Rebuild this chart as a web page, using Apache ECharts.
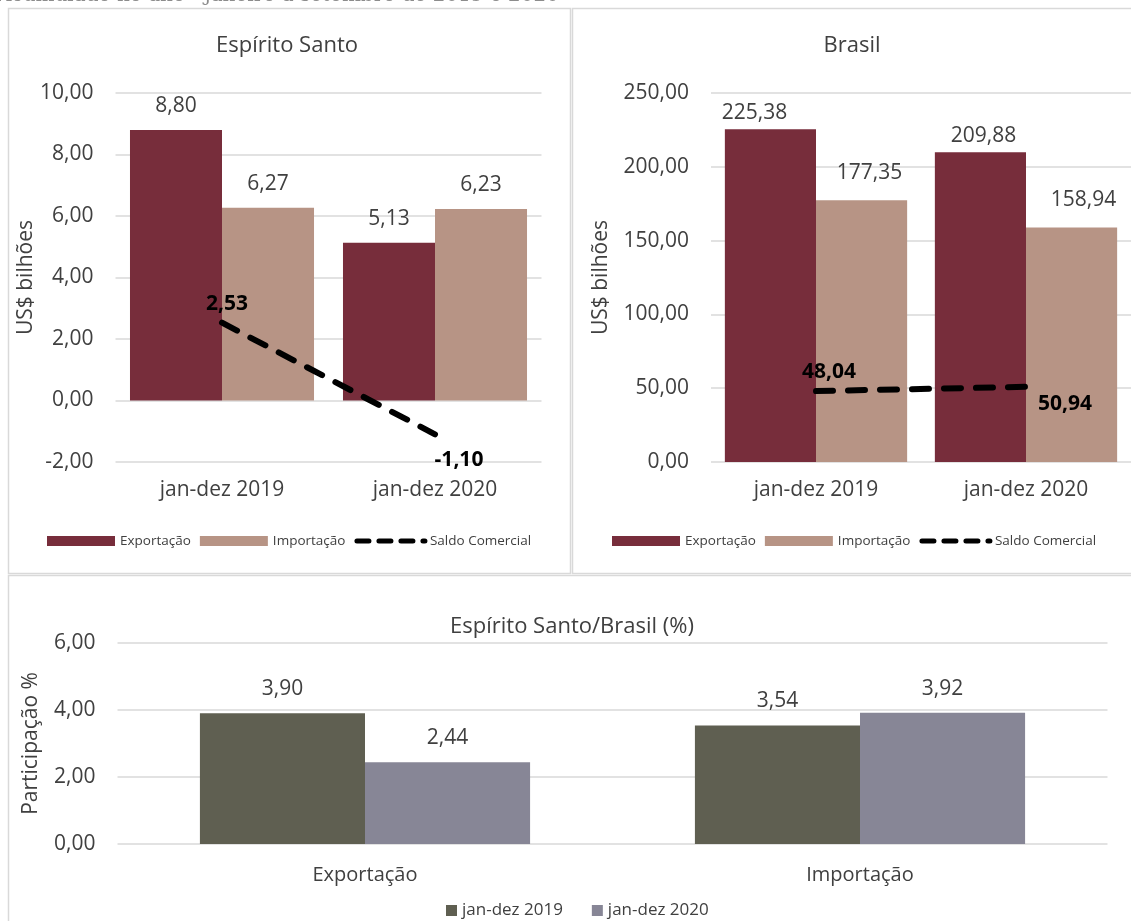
<!DOCTYPE html>
<html><head><meta charset="utf-8">
<script src="https://cdn.jsdelivr.net/npm/echarts@6/dist/echarts.min.js"></script>
<style>html,body{margin:0;padding:0;background:#fff}#c{width:1131px;height:921px}</style>
</head><body><div id="c"></div>
<script>
// ---- data ----
const periodos = ['jan-dez 2019', 'jan-dez 2020'];
const esExportacao = [8.80, 5.13];
const esImportacao = [6.27, 6.23];
const esSaldo = [2.53, -1.10];
const brExportacao = [225.38, 209.88];
const brImportacao = [177.35, 158.94];
const brSaldo = [48.04, 50.94];
const fluxos = ['Exportação', 'Importação'];
const part2019 = [3.90, 3.54];
const part2020 = [2.44, 3.92];
const esTicks = [-2, 0, 2, 4, 6, 8, 10];
const brTicks = [0, 50, 100, 150, 200, 250];
const partTicks = [0, 2, 4, 6];

// ---- style ----
const FONT = 'Open Sans';
const TXT = '#404040';
const GRID = '#d9d9d9';
const C_EXP = '#772D3B', C_IMP = '#B79485', C_19 = '#5F5F51', C_20 = '#878696';
const fmt = v => Number(v).toFixed(2).replace('.', ',');

function yAxis(idx, ticks, name, nameGap) {
  return {
    gridIndex: idx, type: 'value',
    min: ticks[0], max: ticks[ticks.length - 1], interval: ticks[1] - ticks[0],
    name: name, nameLocation: 'middle', nameGap: nameGap, nameRotate: 90,
    nameTextStyle: { fontFamily: FONT, fontSize: 21, color: TXT },
    axisLine: { show: false }, axisTick: { show: false },
    axisLabel: { formatter: fmt, fontFamily: FONT, fontSize: 21, color: TXT, margin: 22 },
    splitLine: { lineStyle: { color: GRID, width: 1.5 } }
  };
}
function xAxis(idx, cats, margin, size) {
  return {
    gridIndex: idx, type: 'category', data: cats,
    axisLine: { show: false }, axisTick: { show: false },
    axisLabel: { fontFamily: FONT, fontSize: size, color: TXT, margin: margin }
  };
}
function barLabel(dist) {
  return { show: true, position: 'top', distance: dist, formatter: p => fmt(p.value),
           fontFamily: FONT, fontSize: 21, color: TXT };
}
function withOffsets(vals, offsets) {
  return vals.map((v, i) => ({ value: v, label: { offset: offsets[i] } }));
}
const dashed = { color: '#000', width: 6, type: [17, 15], cap: 'round' };
const lineLabel = { show: true, position: 'inside', formatter: p => fmt(p.value),
  fontFamily: FONT, fontSize: 21, fontWeight: 'bold', color: '#000' };
const legendTop = (left) => ({
  left: left, top: 534, padding: 0, itemWidth: 68, itemHeight: 10, itemGap: 9,
  textStyle: { fontFamily: FONT, fontSize: 13.5, color: TXT },
  data: [
    { name: 'Exportação', icon: 'rect' },
    { name: 'Importação', icon: 'rect' },
    { name: 'Saldo Comercial', itemStyle: { opacity: 0 },
      lineStyle: { width: 5, type: [12, 10], cap: 'round', color: '#000' } }
  ]
});

const option = {
  backgroundColor: '#fff',
  animation: false,
  title: [
    { text: 'Espírito Santo', left: 287, top: 35, textAlign: 'center', padding: 0,
      textStyle: { fontFamily: FONT, fontSize: 22, fontWeight: 'normal', color: TXT } },
    { text: 'Brasil', left: 852, top: 35, textAlign: 'center', padding: 0,
      textStyle: { fontFamily: FONT, fontSize: 22, fontWeight: 'normal', color: TXT } },
    { text: 'Espírito Santo/Brasil (%)', left: 572, top: 616, textAlign: 'center', padding: 0,
      textStyle: { fontFamily: FONT, fontSize: 22, fontWeight: 'normal', color: TXT } }
  ],
  legend: [
    legendTop(47),
    legendTop(612),
    { left: 446, top: 902, padding: 0, itemWidth: 11, itemHeight: 11, itemGap: 29,
      textStyle: { fontFamily: FONT, fontSize: 17, color: TXT },
      data: [{ name: 'jan-dez 2019', icon: 'rect' }, { name: 'jan-dez 2020', icon: 'rect' }] }
  ],
  grid: [
    { left: 115.5, top: 93, width: 426, height: 369 },
    { left: 711, top: 93, width: 424, height: 369 },
    { left: 117.5, top: 643, width: 990, height: 201 }
  ],
  xAxis: [ xAxis(0, periodos, 18, 21), xAxis(1, periodos, 18, 21), xAxis(2, fluxos, 21, 20) ],
  yAxis: [ yAxis(0, esTicks, 'US$ bilhões', 68), yAxis(1, brTicks, 'US$ bilhões', 99),
           yAxis(2, partTicks, 'Participação %', 76) ],
  series: [
    { name: 'Exportação', type: 'bar', xAxisIndex: 0, yAxisIndex: 0, data: esExportacao,
      barGap: '0%', barCategoryGap: '13.6%', itemStyle: { color: C_EXP }, label: barLabel(13.5) },
    { name: 'Importação', type: 'bar', xAxisIndex: 0, yAxisIndex: 0, data: esImportacao,
      barGap: '0%', barCategoryGap: '13.6%', itemStyle: { color: C_IMP }, label: barLabel(13.5) },
    { name: 'Saldo Comercial', type: 'line', xAxisIndex: 0, yAxisIndex: 0,
      data: withOffsets(esSaldo, [[5, -19], [24, 26]]),
      symbol: 'circle', symbolSize: 2, itemStyle: { color: '#000' }, lineStyle: dashed, label: lineLabel, z: 5 },
    { name: 'Exportação', type: 'bar', xAxisIndex: 1, yAxisIndex: 1,
      data: withOffsets(brExportacao, [[-16, 0], [3, 0]]),
      barGap: '0%', barCategoryGap: '13.2%', itemStyle: { color: C_EXP }, label: barLabel(6) },
    { name: 'Importação', type: 'bar', xAxisIndex: 1, yAxisIndex: 1,
      data: withOffsets(brImportacao, [[8, 0], [12, 0]]),
      barGap: '0%', barCategoryGap: '13.2%', itemStyle: { color: C_IMP }, label: barLabel(17) },
    { name: 'Saldo Comercial', type: 'line', xAxisIndex: 1, yAxisIndex: 1,
      data: withOffsets(brSaldo, [[13, -19], [39, 17]]),
      symbol: 'circle', symbolSize: 2, itemStyle: { color: '#000' }, lineStyle: dashed, label: lineLabel, z: 5 },
    { name: 'jan-dez 2019', type: 'bar', xAxisIndex: 2, yAxisIndex: 2, data: part2019,
      barGap: '0%', barCategoryGap: '33.3%', itemStyle: { color: C_19 }, label: barLabel(13.5) },
    { name: 'jan-dez 2020', type: 'bar', xAxisIndex: 2, yAxisIndex: 2, data: part2020,
      barGap: '0%', barCategoryGap: '33.3%', itemStyle: { color: C_20 }, label: barLabel(13.5) }
  ],
  graphic: [
    { type: 'text', x: -3, y: -14, silent: true,
      style: { text: 'Acumulado no ano - janeiro a setembro de 2019 e 2020',
               font: '20px "DejaVu Serif"', fill: '#8c8c8c' } },
    { type: 'rect', silent: true, z: -10, shape: { x: 8.5, y: 8.5, width: 562, height: 565 },
      style: { fill: 'none', stroke: GRID, lineWidth: 1.5 } },
    { type: 'rect', silent: true, z: -10, shape: { x: 572.5, y: 8.5, width: 570, height: 565 },
      style: { fill: 'none', stroke: GRID, lineWidth: 1.5 } },
    { type: 'rect', silent: true, z: -10, shape: { x: 8.5, y: 575.5, width: 1130, height: 360 },
      style: { fill: 'none', stroke: GRID, lineWidth: 1.5 } }
  ]
};
const chart = echarts.init(document.getElementById('c'), null, { renderer: 'canvas' });
chart.setOption(option);
</script>
</body></html>
